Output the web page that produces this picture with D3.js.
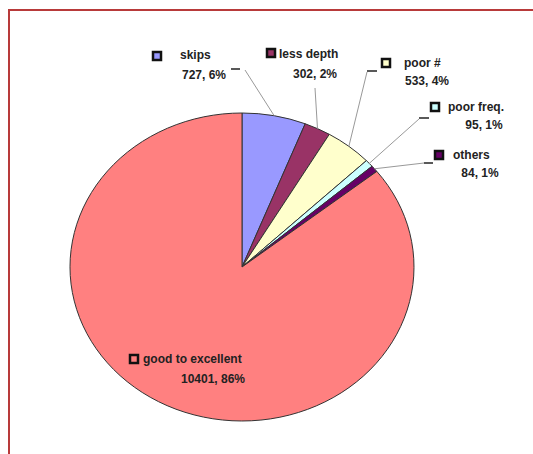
<!DOCTYPE html>
<html>
<head>
<meta charset="utf-8">
<script src="https://cdn.jsdelivr.net/npm/d3@7"></script>
<style>
  body { margin: 0; background: #fff; }
  svg { display: block; }
</style>
</head>
<body>
<div class="canvas"></div>
<script>
// data
const categories = ['skips', 'less depth', 'poor #', 'poor freq.', 'others', 'good to excellent'];
const values = [727, 302, 533, 95, 84, 10401];
const colors = ['#9999ff', '#993366', '#ffffcc', '#ccffff', '#660066', '#ff8080'];

// label layout (key square x,y ; text lines ; leader end)
const labelPos = [
  { kx: 153, ky: 52, tx: 180, t1y: 59, cx: 204, t2y: 79, lx: 245, ly: 70, dash: [231, 240, 69] },
  { kx: 267, ky: 49, tx: 279, t1y: 58, cx: 315, t2y: 78, lx: 315, ly: 88, dash: null },
  { kx: 382, ky: 59, tx: 404, t1y: 67, cx: 427, t2y: 85, lx: 367, ly: 72, dash: [367, 377, 71] },
  { kx: 431, ky: 103, tx: 448, t1y: 111, cx: 484, t2y: 129, lx: 419, ly: 119, dash: [419, 429, 118] },
  { kx: 435, ky: 151, tx: 453, t1y: 159, cx: 480, t2y: 177, lx: 424, ly: 163, dash: [424, 433, 163] },
  { kx: 130, ky: 355, tx: 143, t1y: 363, cx: 213, t2y: 383, lx: null, ly: null, dash: null }
];

const width = 533, height = 454;
const cx = 242, cy = 267, rx = 172, ry = 154;

const svg = d3.select('.canvas')
  .append('svg')
    .attr('width', width)
    .attr('height', height);

// chart area border
svg.append('rect')
  .attr('x', 9)
  .attr('y', 10)
  .attr('width', 540)
  .attr('height', 460)
  .attr('fill', '#fff')
  .attr('stroke', '#b83a3a')
  .attr('stroke-width', 2);

const total = d3.sum(values);
const pct = d3.format('.0%');

const pie = d3.pie().sort(null).value(d => d);
const arcs = pie(values);

const arc = d3.arc()
  .innerRadius(0)
  .outerRadius(rx);

const graph = svg.append('g')
  .attr('transform', `translate(${cx}, ${cy}) scale(1, ${ry / rx})`);

graph.selectAll('path')
  .data(arcs)
  .enter()
  .append('path')
    .attr('d', arc)
    .attr('fill', (d, i) => colors[i])
    .attr('stroke', '#333')
    .attr('stroke-width', 1)
    .attr('vector-effect', 'non-scaling-stroke');

// leader lines from slice edge to label
const edge = d => {
  const a = (d.startAngle + d.endAngle) / 2;
  return [cx + rx * Math.sin(a), cy - ry * Math.cos(a)];
};

arcs.forEach((d, i) => {
  const p = labelPos[i];
  if (p.lx === null) return;
  const [ex, ey] = edge(d);
  svg.append('line')
    .attr('x1', ex).attr('y1', ey)
    .attr('x2', p.lx).attr('y2', p.ly)
    .attr('stroke', '#999')
    .attr('stroke-width', 1);
  if (p.dash) {
    svg.append('line')
      .attr('x1', p.dash[0]).attr('y1', p.dash[2])
      .attr('x2', p.dash[1]).attr('y2', p.dash[2])
      .attr('stroke', '#222')
      .attr('stroke-width', 1.5);
  }
});

// labels
const labels = svg.selectAll('g.label')
  .data(arcs)
  .enter()
  .append('g')
    .attr('class', 'label');

labels.append('rect')
  .attr('x', (d, i) => labelPos[i].kx)
  .attr('y', (d, i) => labelPos[i].ky)
  .attr('width', 8)
  .attr('height', 8)
  .attr('fill', (d, i) => colors[i])
  .attr('stroke', '#111')
  .attr('stroke-width', 2.5);

labels.append('text')
  .attr('x', (d, i) => labelPos[i].tx)
  .attr('y', (d, i) => labelPos[i].t1y)
  .attr('font-family', 'Liberation Sans, Arial, sans-serif')
  .attr('font-size', 12)
  .attr('font-weight', 'bold')
  .attr('fill', '#222')
  .text((d, i) => categories[i]);

labels.append('text')
  .attr('x', (d, i) => labelPos[i].cx)
  .attr('y', (d, i) => labelPos[i].t2y)
  .attr('text-anchor', 'middle')
  .attr('font-family', 'Liberation Sans, Arial, sans-serif')
  .attr('font-size', 12)
  .attr('font-weight', 'bold')
  .attr('fill', '#222')
  .text(d => `${d.data}, ${pct(d.data / total)}`);
</script>
</body>
</html>
